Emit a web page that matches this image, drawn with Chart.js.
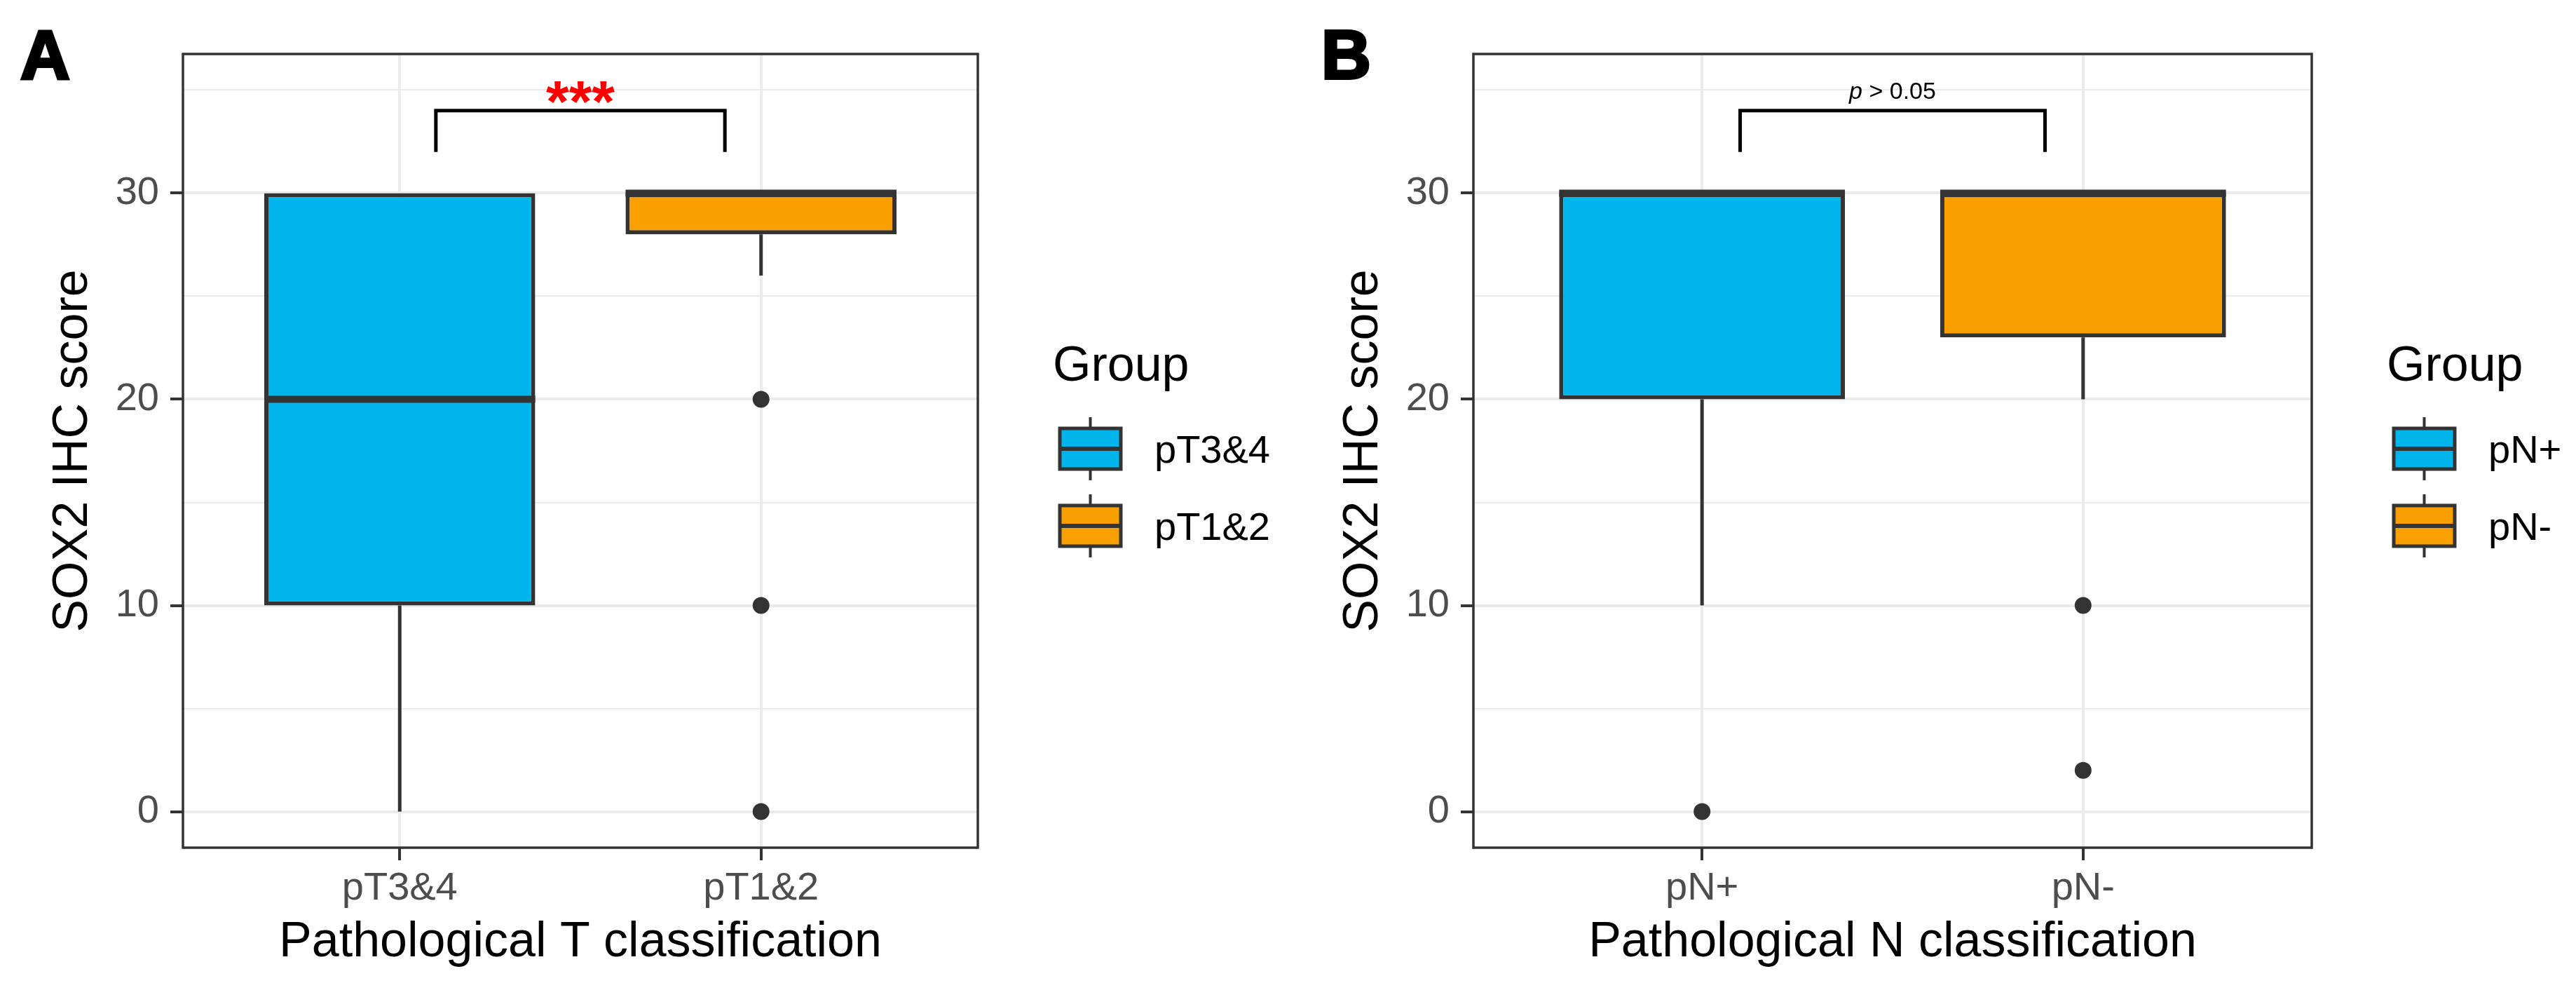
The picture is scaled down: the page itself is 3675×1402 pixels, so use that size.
<!DOCTYPE html>
<html>
<head>
<meta charset="utf-8">
<title>SOX2 IHC score</title>
<script src="https://cdn.jsdelivr.net/npm/chart.js@4/dist/chart.umd.min.js"></script>
<style>
    html, body { margin: 0; padding: 0; background: #fff; }
    #wrap { position: relative; width: 3675px; height: 1402px; }
    .panel { position: absolute; top: 0; height: 1402px; }
    #panelA { left: 0; width: 1841px; }
    #panelB { left: 1841px; width: 1834px; }
</style>
</head>
<body>
<div id="wrap">
    <div class="panel" id="panelA"><canvas id="chartA"></canvas></div>
    <div class="panel" id="panelB"><canvas id="chartB"></canvas></div>
</div>
<script>
// Panel A - pathological T
const tCategories = ['pT3&4', 'pT1&2'];
const tLowerWhisker = [0, 26];
const tQ1 = [10, 28];
const tMedian = [20, 30];
const tQ3 = [30, 30];
const tUpperWhisker = [30, 30];
const tOutliers = [[], [20, 10, 0]];

// Panel B - pathological N
const nCategories = ['pN+', 'pN-'];
const nLowerWhisker = [10, 20];
const nQ1 = [20, 23];
const nMedian = [30, 30];
const nQ3 = [30, 30];
const nUpperWhisker = [30, 30];
const nOutliers = [[0], [10, 2]];

// axes
const yMajorTicks = [0, 10, 20, 30];
const yMinorTicks = [5, 15, 25, 35];
const yRange = [-1.75, 36.75];
const xRange = [0.4, 2.6];

// significance bracket (legs bottom, bar top) and its span in category units
const bracketY = [32, 34];
const bracketX = [1.1, 1.9];

const groupColors = ['#00B5EB', '#F9A000'];

const FONT = '"Liberation Sans", Arial, Helvetica, sans-serif';
const INK = '#333333';

const boxExtras = {
    id: 'boxExtras',

    afterDatasetsDraw(chart, args, opts) {
        const { ctx } = chart;
        const x = chart.scales.x;
        const y = chart.scales.y;
        const boxes = chart.getDatasetMeta(0).data;

        ctx.save();
        ctx.strokeStyle = INK;
        ctx.lineCap = 'butt';

        opts.categories.forEach((cat, i) => {
            const cx = x.getPixelForValue(i + 1);
            const half = boxes[i].width / 2;

            // whiskers
            ctx.lineWidth = 5;
            ctx.beginPath();
            if (opts.lower[i] < opts.q1[i]) {
                ctx.moveTo(cx, y.getPixelForValue(opts.q1[i]));
                ctx.lineTo(cx, y.getPixelForValue(opts.lower[i]));
            }
            if (opts.upper[i] > opts.q3[i]) {
                ctx.moveTo(cx, y.getPixelForValue(opts.q3[i]));
                ctx.lineTo(cx, y.getPixelForValue(opts.upper[i]));
            }
            ctx.stroke();

            // median
            const ym = y.getPixelForValue(opts.median[i]);
            ctx.lineWidth = 10;
            ctx.beginPath();
            ctx.moveTo(cx - half, ym);
            ctx.lineTo(cx + half, ym);
            ctx.stroke();
        });

        // bracket
        const x1 = x.getPixelForValue(bracketX[0]);
        const x2 = x.getPixelForValue(bracketX[1]);
        const yLeg = y.getPixelForValue(bracketY[0]);
        const yBar = y.getPixelForValue(bracketY[1]);
        ctx.strokeStyle = '#000';
        ctx.lineWidth = 5;
        ctx.lineJoin = 'miter';
        ctx.beginPath();
        ctx.moveTo(x1, yLeg);
        ctx.lineTo(x1, yBar);
        ctx.lineTo(x2, yBar);
        ctx.lineTo(x2, yLeg);
        ctx.stroke();

        // significance label
        const mx = (x1 + x2) / 2;
        ctx.textBaseline = 'alphabetic';
        if (opts.signif === '***') {
            ctx.font = `bold 84px ${FONT}`;
            ctx.fillStyle = '#FF0000';
            ctx.textAlign = 'center';
            ctx.fillText('***', mx, yBar + 16);
        } else {
            const pFont = `italic 34px ${FONT}`;
            const restFont = `34px ${FONT}`;
            const rest = ' > 0.05';
            ctx.font = pFont;
            const wp = ctx.measureText('p').width;
            ctx.font = restFont;
            const wr = ctx.measureText(rest).width;
            const sx = mx - (wp + wr) / 2;
            ctx.fillStyle = '#000';
            ctx.textAlign = 'left';
            ctx.font = pFont;
            ctx.fillText('p', sx, yBar - 17);
            ctx.font = restFont;
            ctx.fillText(rest, sx + wp, yBar - 17);
        }
        ctx.restore();
    },

    afterDraw(chart, args, opts) {
        const { ctx, chartArea: area } = chart;
        ctx.save();

        // panel border
        ctx.strokeStyle = INK;
        ctx.lineWidth = 3.5;
        ctx.strokeRect(area.left, area.top, area.right - area.left, area.bottom - area.top);

        // panel letter
        ctx.font = `bold 98px ${FONT}`;
        ctx.fillStyle = '#000';
        ctx.strokeStyle = '#000';
        ctx.lineWidth = 4;
        ctx.textAlign = 'left';
        ctx.textBaseline = 'alphabetic';
        ctx.fillText(opts.letter, opts.letterX, 112);
        ctx.strokeText(opts.letter, opts.letterX, 112);

        // legend
        const mid = (area.top + area.bottom) / 2;
        const lx = area.right + 117;
        const kw = 87;
        const kh = 58;
        ctx.font = `70px ${FONT}`;
        ctx.fillText('Group', area.right + 107, mid - 100);

        opts.categories.forEach((cat, i) => {
            const cy = mid - 3 + i * 110;
            const kx = lx + kw / 2;

            ctx.strokeStyle = INK;
            ctx.lineWidth = 4;
            ctx.beginPath();
            ctx.moveTo(kx, cy - kh / 2 - 16);
            ctx.lineTo(kx, cy + kh / 2 + 16);
            ctx.stroke();

            ctx.fillStyle = opts.colors[i];
            ctx.fillRect(lx, cy - kh / 2, kw, kh);
            ctx.lineWidth = 5;
            ctx.strokeRect(lx, cy - kh / 2, kw, kh);

            ctx.lineWidth = 6;
            ctx.beginPath();
            ctx.moveTo(lx, cy);
            ctx.lineTo(lx + kw, cy);
            ctx.stroke();

            ctx.fillStyle = '#000';
            ctx.font = `56px ${FONT}`;
            ctx.fillText(cat, area.right + 252, cy + 20);
        });

        ctx.restore();
    }
};

class BoxPanel {
    constructor(canvasId, cfg) {
        this.cfg = cfg;
        this.chart = new Chart(document.getElementById(canvasId), this.buildConfig());
    }

    boxData() {
        return this.cfg.categories.map((c, i) => ({ x: i + 1, y: [this.cfg.q1[i], this.cfg.q3[i]] }));
    }

    outlierData() {
        const pts = [];
        this.cfg.outliers.forEach((vals, i) => {
            vals.forEach(v => pts.push({ x: i + 1, y: v }));
        });
        return pts;
    }

    buildConfig() {
        const cfg = this.cfg;
        const yTicks = [...yMajorTicks, ...yMinorTicks].sort((a, b) => a - b);
        const isMajor = v => yMajorTicks.includes(v);

        return {
            type: 'bar',
            data: {
                datasets: [{
                    type: 'bar',
                    data: this.boxData(),
                    backgroundColor: groupColors,
                    borderColor: INK,
                    borderWidth: 6,
                    borderSkipped: false,
                    categoryPercentage: 1,
                    barPercentage: 0.75,
                    order: 2
                }, {
                    type: 'scatter',
                    data: this.outlierData(),
                    pointRadius: 12,
                    pointHoverRadius: 12,
                    pointBackgroundColor: INK,
                    pointBorderWidth: 0,
                    showLine: false,
                    order: 1
                }]
            },
            options: {
                responsive: true,
                maintainAspectRatio: false,
                devicePixelRatio: 1,
                animation: false,
                layout: {
                    padding: { left: 0, right: cfg.rightPad, top: 77, bottom: 0 }
                },
                plugins: {
                    legend: { display: false },
                    tooltip: { enabled: false },
                    boxExtras: {
                        categories: cfg.categories,
                        lower: cfg.lower,
                        q1: cfg.q1,
                        median: cfg.median,
                        q3: cfg.q3,
                        upper: cfg.upper,
                        signif: cfg.signif,
                        letter: cfg.letter,
                        letterX: cfg.letterX,
                        colors: groupColors
                    }
                },
                scales: {
                    x: {
                        type: 'linear',
                        min: xRange[0],
                        max: xRange[1],
                        bounds: 'data',
                        offset: false,
                        afterBuildTicks: scale => {
                            scale.ticks = cfg.categories.map((c, i) => ({ value: i + 1 }));
                        },
                        afterFit: scale => { scale.height = 193; },
                        ticks: {
                            autoSkip: false,
                            maxRotation: 0,
                            padding: 7,
                            color: '#4D4D4D',
                            font: { family: FONT, size: 56 },
                            callback: v => cfg.categories[Math.round(v) - 1] || ''
                        },
                        grid: {
                            offset: false,
                            color: '#EBEBEB',
                            lineWidth: 4,
                            tickColor: INK,
                            tickLength: 18,
                            tickWidth: 4
                        },
                        border: { display: false },
                        title: {
                            display: true,
                            text: cfg.xTitle,
                            color: '#000',
                            font: { family: FONT, size: 70 },
                            padding: { top: 0, bottom: 15 }
                        }
                    },
                    y: {
                        type: 'linear',
                        min: yRange[0],
                        max: yRange[1],
                        bounds: 'data',
                        afterBuildTicks: scale => {
                            scale.ticks = yTicks.map(v => ({ value: v }));
                        },
                        afterFit: scale => { scale.width = 261; },
                        ticks: {
                            autoSkip: false,
                            padding: 16,
                            color: '#4D4D4D',
                            font: { family: FONT, size: 56 },
                            callback: v => (isMajor(v) ? String(v) : '')
                        },
                        grid: {
                            color: '#EBEBEB',
                            lineWidth: ctx => (isMajor(ctx.tick.value) ? 4 : 2),
                            tickColor: ctx => (isMajor(ctx.tick.value) ? INK : 'rgba(0,0,0,0)'),
                            tickLength: 18,
                            tickWidth: 4
                        },
                        border: { display: false },
                        title: {
                            display: true,
                            text: 'SOX2 IHC score',
                            color: '#000',
                            font: { family: FONT, size: 70 },
                            padding: { top: 63, bottom: 0 }
                        }
                    }
                }
            },
            plugins: [boxExtras]
        };
    }
}

document.addEventListener('DOMContentLoaded', () => {
    window.panelA = new BoxPanel('chartA', {
        categories: tCategories,
        lower: tLowerWhisker,
        q1: tQ1,
        median: tMedian,
        q3: tQ3,
        upper: tUpperWhisker,
        outliers: tOutliers,
        signif: '***',
        letter: 'A',
        letterX: 29,
        rightPad: 446,
        xTitle: 'Pathological T classification'
    });

    window.panelB = new BoxPanel('chartB', {
        categories: nCategories,
        lower: nLowerWhisker,
        q1: nQ1,
        median: nMedian,
        q3: nQ3,
        upper: nUpperWhisker,
        outliers: nOutliers,
        signif: 'p > 0.05',
        letter: 'B',
        letterX: 44,
        rightPad: 377,
        xTitle: 'Pathological N classification'
    });
});
</script>
</body>
</html>
